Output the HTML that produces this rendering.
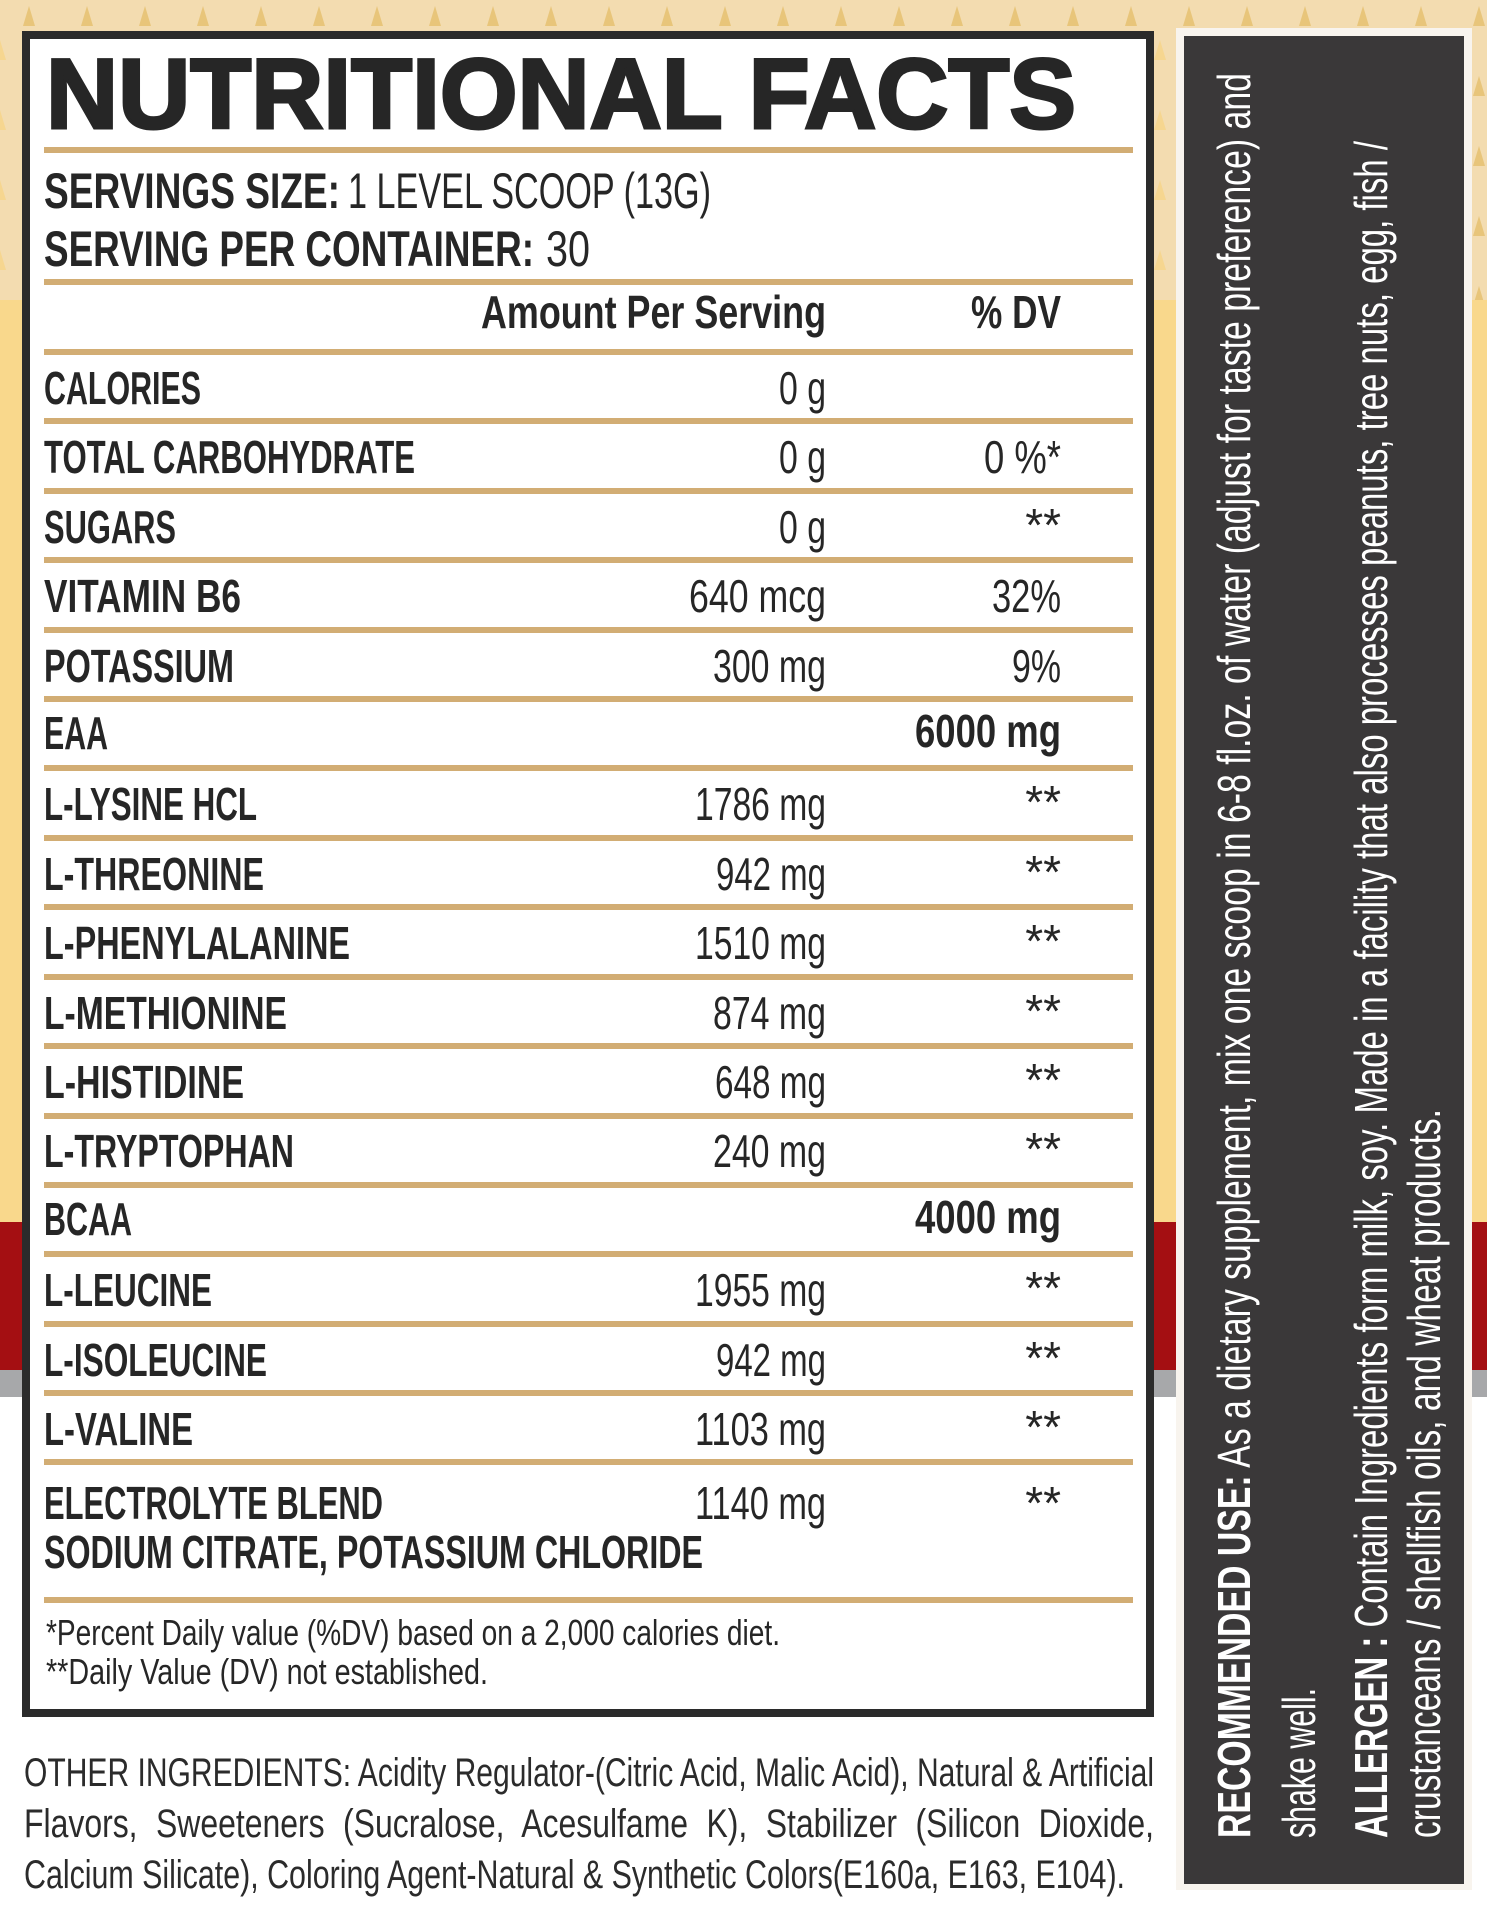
<!DOCTYPE html>
<html><head><meta charset="utf-8"><style>
html,body{margin:0;padding:0;background:#fff;}
svg{display:block;}
</style></head><body>
<svg width="1487" height="1920" viewBox="0 0 1487 1920" xmlns="http://www.w3.org/2000/svg" font-family="Liberation Sans, sans-serif">
<defs>
<pattern id="tri" x="0" y="0" width="58" height="70" patternUnits="userSpaceOnUse">
<rect width="58" height="70" fill="#f3dcb0"/>
<polygon points="29,6 35,26 23,26" fill="#e8c57a"/>
<polygon points="0,40 6,60 -6,60" fill="#f6d690"/>
<polygon points="58,40 64,60 52,60" fill="#f6d690"/>
</pattern>
</defs>
<rect x="0" y="0" width="1487" height="1222" fill="url(#tri)"/>
<rect x="0" y="300" width="22" height="922" fill="#f9d88c"/>
<rect x="1154" y="300" width="30" height="922" fill="#f9d88c"/>
<rect x="1466" y="300" width="21" height="922" fill="#f9d88c"/>
<rect x="0" y="1222" width="1487" height="148" fill="#a40f12"/>
<rect x="0" y="1370" width="1487" height="27" fill="#a7a8aa"/>
<rect x="0" y="1397" width="1487" height="523" fill="#ffffff"/>

<rect x="22" y="31" width="1132" height="1686" fill="#2b2b2b"/>
<rect x="30" y="39" width="1116" height="1670" fill="#ffffff"/>

<rect x="1176" y="28" width="296" height="1862" fill="#f8f4ee"/>
<rect x="1184" y="36" width="280" height="1848" fill="#3a3839"/>

<g fill="#262626">
<text x="46" y="128" font-size="99" font-weight="bold" stroke="#262626" stroke-width="3" textLength="1030" lengthAdjust="spacingAndGlyphs">NUTRITIONAL FACTS</text>
</g>

<g fill="#d2ad74">
<rect x="44" y="147" width="1089" height="6"/>
<rect x="44" y="279" width="1089" height="6"/>
<rect x="44" y="349" width="1089" height="6"/>
<rect x="44" y="418" width="1089" height="6"/>
<rect x="44" y="488" width="1089" height="6"/>
<rect x="44" y="557" width="1089" height="6"/>
<rect x="44" y="627" width="1089" height="6"/>
<rect x="44" y="696" width="1089" height="6"/>
<rect x="44" y="765" width="1089" height="6"/>
<rect x="44" y="835" width="1089" height="6"/>
<rect x="44" y="904" width="1089" height="6"/>
<rect x="44" y="974" width="1089" height="6"/>
<rect x="44" y="1043" width="1089" height="6"/>
<rect x="44" y="1113" width="1089" height="6"/>
<rect x="44" y="1182" width="1089" height="6"/>
<rect x="44" y="1251" width="1089" height="6"/>
<rect x="44" y="1321" width="1089" height="6"/>
<rect x="44" y="1390" width="1089" height="6"/>
<rect x="44" y="1459" width="1089" height="6"/>
<rect x="44" y="1597" width="1089" height="6"/>
</g>

<g fill="#262626" font-size="50">
<text x="44" y="208"><tspan font-weight="bold" textLength="296" lengthAdjust="spacingAndGlyphs">SERVINGS SIZE:</tspan></text>
<text x="348" y="208" textLength="363" lengthAdjust="spacingAndGlyphs">1 LEVEL SCOOP (13G)</text>
<text x="44" y="266" font-weight="bold" textLength="490" lengthAdjust="spacingAndGlyphs">SERVING PER CONTAINER:</text>
<text x="546" y="266" textLength="44" lengthAdjust="spacingAndGlyphs">30</text>
</g>

<g fill="#262626" font-size="46" font-weight="bold">
<text x="826" y="328" text-anchor="end" textLength="345" lengthAdjust="spacingAndGlyphs">Amount Per Serving</text>
<text x="1061" y="328" text-anchor="end" textLength="90" lengthAdjust="spacingAndGlyphs">% DV</text>
</g>

<g fill="#262626" font-size="46" font-weight="bold">
<text x="44" y="404" textLength="157" lengthAdjust="spacingAndGlyphs">CALORIES</text>
<text x="44" y="473" textLength="371" lengthAdjust="spacingAndGlyphs">TOTAL CARBOHYDRATE</text>
<text x="44" y="543" textLength="132" lengthAdjust="spacingAndGlyphs">SUGARS</text>
<text x="44" y="612" textLength="197" lengthAdjust="spacingAndGlyphs">VITAMIN B6</text>
<text x="44" y="682" textLength="190" lengthAdjust="spacingAndGlyphs">POTASSIUM</text>
<text x="44" y="749" textLength="64" lengthAdjust="spacingAndGlyphs">EAA</text>
<text x="44" y="820" textLength="213" lengthAdjust="spacingAndGlyphs">L-LYSINE HCL</text>
<text x="44" y="890" textLength="220" lengthAdjust="spacingAndGlyphs">L-THREONINE</text>
<text x="44" y="959" textLength="306" lengthAdjust="spacingAndGlyphs">L-PHENYLALANINE</text>
<text x="44" y="1029" textLength="243" lengthAdjust="spacingAndGlyphs">L-METHIONINE</text>
<text x="44" y="1098" textLength="200" lengthAdjust="spacingAndGlyphs">L-HISTIDINE</text>
<text x="44" y="1167" textLength="250" lengthAdjust="spacingAndGlyphs">L-TRYPTOPHAN</text>
<text x="44" y="1235" textLength="88" lengthAdjust="spacingAndGlyphs">BCAA</text>
<text x="44" y="1306" textLength="168" lengthAdjust="spacingAndGlyphs">L-LEUCINE</text>
<text x="44" y="1376" textLength="223" lengthAdjust="spacingAndGlyphs">L-ISOLEUCINE</text>
<text x="44" y="1445" textLength="149" lengthAdjust="spacingAndGlyphs">L-VALINE</text>
<text x="44" y="1519" textLength="339" lengthAdjust="spacingAndGlyphs">ELECTROLYTE BLEND</text>
<text x="44" y="1568" textLength="659" lengthAdjust="spacingAndGlyphs">SODIUM CITRATE, POTASSIUM CHLORIDE</text>
<text x="1061" y="747" text-anchor="end" textLength="146" lengthAdjust="spacingAndGlyphs">6000 mg</text>
<text x="1061" y="1233" text-anchor="end" textLength="146" lengthAdjust="spacingAndGlyphs">4000 mg</text>
</g>

<g fill="#262626" font-size="46" text-anchor="end">
<text x="826" y="404" textLength="47" lengthAdjust="spacingAndGlyphs">0 g</text>
<text x="826" y="473" textLength="47" lengthAdjust="spacingAndGlyphs">0 g</text>
<text x="826" y="543" textLength="47" lengthAdjust="spacingAndGlyphs">0 g</text>
<text x="826" y="612" textLength="137" lengthAdjust="spacingAndGlyphs">640  mcg</text>
<text x="826" y="682" textLength="113" lengthAdjust="spacingAndGlyphs">300 mg</text>
<text x="826" y="820" textLength="131" lengthAdjust="spacingAndGlyphs">1786 mg</text>
<text x="826" y="890" textLength="110" lengthAdjust="spacingAndGlyphs">942 mg</text>
<text x="826" y="959" textLength="131" lengthAdjust="spacingAndGlyphs">1510 mg</text>
<text x="826" y="1029" textLength="113" lengthAdjust="spacingAndGlyphs">874 mg</text>
<text x="826" y="1098" textLength="111" lengthAdjust="spacingAndGlyphs">648 mg</text>
<text x="826" y="1167" textLength="113" lengthAdjust="spacingAndGlyphs">240 mg</text>
<text x="826" y="1306" textLength="131" lengthAdjust="spacingAndGlyphs">1955 mg</text>
<text x="826" y="1376" textLength="110" lengthAdjust="spacingAndGlyphs">942 mg</text>
<text x="826" y="1445" textLength="131" lengthAdjust="spacingAndGlyphs">1103 mg</text>
<text x="826" y="1519" textLength="131" lengthAdjust="spacingAndGlyphs">1140 mg</text>
<text x="1061" y="473" textLength="77" lengthAdjust="spacingAndGlyphs">0 %*</text>
<text x="1061" y="612" textLength="69" lengthAdjust="spacingAndGlyphs">32%</text>
<text x="1061" y="682" textLength="49" lengthAdjust="spacingAndGlyphs">9%</text>
<text x="1061" y="541">**</text>
<text x="1061" y="818">**</text>
<text x="1061" y="888">**</text>
<text x="1061" y="957">**</text>
<text x="1061" y="1027">**</text>
<text x="1061" y="1096">**</text>
<text x="1061" y="1165">**</text>
<text x="1061" y="1304">**</text>
<text x="1061" y="1374">**</text>
<text x="1061" y="1443">**</text>
<text x="1061" y="1519">**</text>
</g>

<g fill="#262626" font-size="36">
<text x="46" y="1645" textLength="734" lengthAdjust="spacingAndGlyphs">*Percent Daily value (%DV) based on a 2,000 calories diet.</text>
<text x="46" y="1684" textLength="442" lengthAdjust="spacingAndGlyphs">**Daily Value (DV) not established.</text>
</g>

<g fill="#2b2b2b" font-size="40">
<text x="24" y="1786" textLength="1130" lengthAdjust="spacingAndGlyphs">OTHER INGREDIENTS: Acidity Regulator-(Citric Acid, Malic Acid), Natural &amp; Artificial</text>
<text x="24" y="1837" textLength="1130" lengthAdjust="spacingAndGlyphs" word-spacing="12">Flavors, Sweeteners (Sucralose, Acesulfame K), Stabilizer (Silicon Dioxide,</text>
<text x="24" y="1888" textLength="1101" lengthAdjust="spacingAndGlyphs">Calcium Silicate), Coloring Agent-Natural &amp; Synthetic Colors(E160a, E163, E104).</text>
</g>

<g fill="#ffffff" font-size="46">
<text transform="translate(1250,1838) rotate(-90)" textLength="1765" lengthAdjust="spacingAndGlyphs"><tspan font-weight="bold">RECOMMENDED USE:</tspan> As a dietary supplement, mix one scoop in 6-8 fl.oz. of water (adjust for taste preference) and</text>
<text transform="translate(1315,1838) rotate(-90)" textLength="150" lengthAdjust="spacingAndGlyphs">shake well.</text>
<text transform="translate(1387,1838) rotate(-90)" textLength="1697" lengthAdjust="spacingAndGlyphs"><tspan font-weight="bold">ALLERGEN :</tspan> Contain Ingredients form milk, soy. Made in a facility that also processes peanuts, tree nuts, egg, fish /</text>
<text transform="translate(1440,1838) rotate(-90)" textLength="729" lengthAdjust="spacingAndGlyphs">crustanceans / shellfish oils, and wheat products.</text>
</g>
</svg>
</body></html>
